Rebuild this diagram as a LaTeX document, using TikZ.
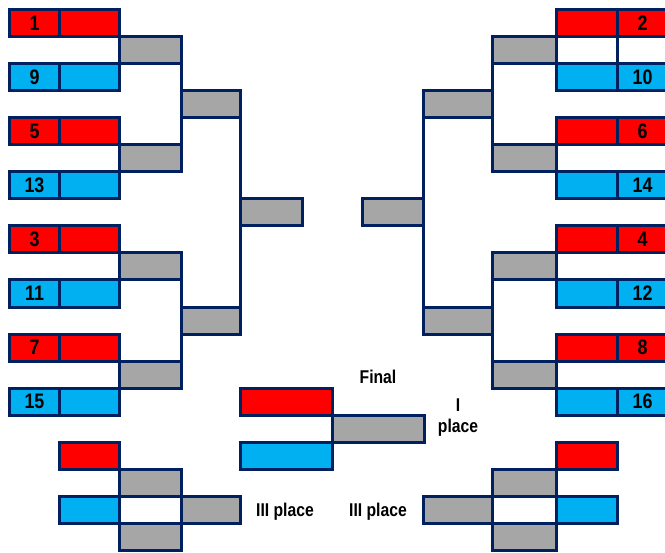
\documentclass[tikz,border=0pt]{standalone}
\usepackage{fontspec}
\setmainfont{Liberation Sans}
\newfontfamily\numfont[FakeStretch=0.85]{Liberation Sans}
\definecolor{bred}{HTML}{FF0000}
\definecolor{bblue}{HTML}{00B0F0}
\definecolor{bgray}{HTML}{A6A6A6}
\definecolor{bnavy}{HTML}{002060}
\tikzset{
  cellbox/.style={draw=bnavy, line width=3pt, inner sep=0pt, outer sep=0pt, rectangle},
  redc/.style={cellbox, fill=bred},
  bluec/.style={cellbox, fill=bblue},
  grayc/.style={cellbox, fill=bgray},
  whitec/.style={cellbox, fill=white},
  numtext/.style={font=\numfont\bfseries\fontsize{21}{21}\selectfont},
  lbltext/.style={font=\numfont\bfseries\fontsize{18.5}{21}\selectfont, align=center, inner sep=0pt},
  conn/.style={draw=bnavy, line width=3pt},
}
% name, x1, x2, row, style, text
\newcommand{\cellat}[6]{%
  \node[#5, numtext, minimum width={(#3-#2)*1pt}, minimum height=27.05pt] (#1) at ({(#2+#3)/2},{9.5+27.05*(#4+0.5)}) {#6};}
\begin{document}
\begin{tikzpicture}[x=1pt,y=-1pt]
\useasboundingbox (0,0) rectangle (665,553);
% ---------- left bracket ----------
\cellat{Ln1}{9.5}{59.5}{0}{redc}{1}
\cellat{Lc1}{59.5}{119.5}{0}{redc}{}
\cellat{Ln9}{9.5}{59.5}{2}{bluec}{9}
\cellat{Lc9}{59.5}{119.5}{2}{bluec}{}
\cellat{Ln5}{9.5}{59.5}{4}{redc}{5}
\cellat{Lc5}{59.5}{119.5}{4}{redc}{}
\cellat{Ln13}{9.5}{59.5}{6}{bluec}{13}
\cellat{Lc13}{59.5}{119.5}{6}{bluec}{}
\cellat{Ln3}{9.5}{59.5}{8}{redc}{3}
\cellat{Lc3}{59.5}{119.5}{8}{redc}{}
\cellat{Ln11}{9.5}{59.5}{10}{bluec}{11}
\cellat{Lc11}{59.5}{119.5}{10}{bluec}{}
\cellat{Ln7}{9.5}{59.5}{12}{redc}{7}
\cellat{Lc7}{59.5}{119.5}{12}{redc}{}
\cellat{Ln15}{9.5}{59.5}{14}{bluec}{15}
\cellat{Lc15}{59.5}{119.5}{14}{bluec}{}
\cellat{LA1}{119.5}{181}{1}{grayc}{}
\cellat{LA2}{119.5}{181}{5}{grayc}{}
\cellat{LA3}{119.5}{181}{9}{grayc}{}
\cellat{LA4}{119.5}{181}{13}{grayc}{}
\cellat{LB1}{181}{240.5}{3}{grayc}{}
\cellat{LB2}{181}{240.5}{11}{grayc}{}
\cellat{LC}{240.5}{302}{7}{grayc}{}
\draw[conn] (LA1.north east) -- (LA2.south east);
\draw[conn] (LA3.north east) -- (LA4.south east);
\draw[conn] (LB1.north east) -- (LB2.south east);
% ---------- right bracket ----------
\cellat{Rc2}{556.5}{617}{0}{redc}{}
\cellat{Rn2}{617}{668}{0}{redc}{2}
\cellat{Rw1}{556.5}{617}{1}{whitec}{}
\cellat{Rw2}{617}{668}{1}{whitec}{}
\cellat{Rc10}{556.5}{617}{2}{bluec}{}
\cellat{Rn10}{617}{668}{2}{bluec}{10}
\cellat{Rc6}{556.5}{617}{4}{redc}{}
\cellat{Rn6}{617}{668}{4}{redc}{6}
\cellat{Rc14}{556.5}{617}{6}{bluec}{}
\cellat{Rn14}{617}{668}{6}{bluec}{14}
\cellat{Rc4}{556.5}{617}{8}{redc}{}
\cellat{Rn4}{617}{668}{8}{redc}{4}
\cellat{Rc12}{556.5}{617}{10}{bluec}{}
\cellat{Rn12}{617}{668}{10}{bluec}{12}
\cellat{Rc8}{556.5}{617}{12}{redc}{}
\cellat{Rn8}{617}{668}{12}{redc}{8}
\cellat{Rc16}{556.5}{617}{14}{bluec}{}
\cellat{Rn16}{617}{668}{14}{bluec}{16}
\cellat{RA1}{492}{556.5}{1}{grayc}{}
\cellat{RA2}{492}{556.5}{5}{grayc}{}
\cellat{RA3}{492}{556.5}{9}{grayc}{}
\cellat{RA4}{492}{556.5}{13}{grayc}{}
\cellat{RB1}{423.5}{492}{3}{grayc}{}
\cellat{RB2}{423.5}{492}{11}{grayc}{}
\cellat{RC}{362.5}{423.5}{7}{grayc}{}
\draw[conn] (RA1.north west) -- (RA2.south west);
\draw[conn] (RA3.north west) -- (RA4.south west);
\draw[conn] (RB1.north west) -- (RB2.south west);
% ---------- final ----------
\cellat{Fr}{240.5}{332}{14}{redc}{}
\cellat{Fb}{240.5}{332}{16}{bluec}{}
\cellat{Fg}{332}{424.5}{15}{grayc}{}
% ---------- third place, left ----------
\cellat{TLr}{59.5}{119.5}{16}{redc}{}
\cellat{TLb}{59.5}{119.5}{18}{bluec}{}
\cellat{TLw}{119.5}{181}{18}{whitec}{}
\cellat{TLg1}{119.5}{181}{17}{grayc}{}
\cellat{TLg2}{119.5}{181}{19}{grayc}{}
\cellat{TLg3}{181}{240.5}{18}{grayc}{}
% ---------- third place, right ----------
\cellat{TRr}{556.5}{617}{16}{redc}{}
\cellat{TRb}{556.5}{617}{18}{bluec}{}
\cellat{TRw}{492}{556.5}{18}{whitec}{}
\cellat{TRg1}{492}{556.5}{17}{grayc}{}
\cellat{TRg2}{492}{556.5}{19}{grayc}{}
\cellat{TRg3}{423.5}{492}{18}{grayc}{}
% ---------- labels ----------
\node[lbltext] (final) at (378,377) {Final};
\node[lbltext] (first) at (458,418) {I\\place};
\node[lbltext] (thirdL) at (285,512) {III place};
\node[lbltext] (thirdR) at (378,512) {III place};
\end{tikzpicture}
\end{document}
